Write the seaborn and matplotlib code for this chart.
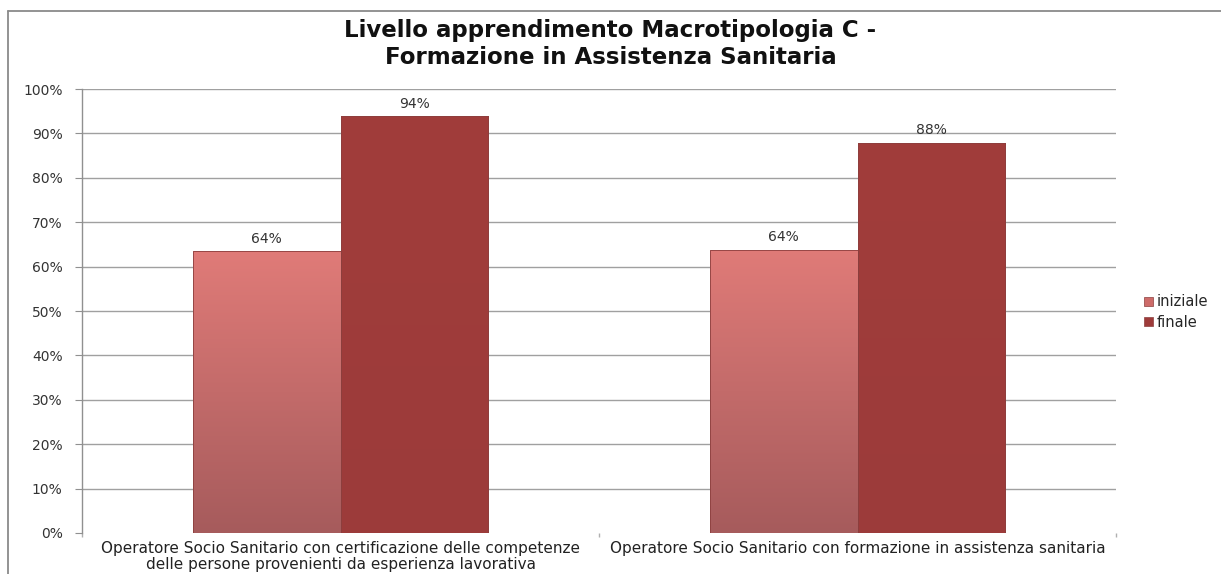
import matplotlib
matplotlib.use("Agg")
import matplotlib.pyplot as plt
import numpy as np
import pandas as pd
import seaborn as sns
from matplotlib.colors import LinearSegmentedColormap
from matplotlib.lines import Line2D

categories = [
    "Operatore Socio Sanitario con certificazione delle competenze\ndelle persone provenienti da esperienza lavorativa",
    "Operatore Socio Sanitario con formazione in assistenza sanitaria",
]
series = ["iniziale", "finale"]
iniziale = [0.635, 0.638]
finale = [0.939, 0.879]
data_labels = [["64%", "64%"], ["94%", "88%"]]
yticks = [0, 0.1, 0.2, 0.3, 0.4, 0.5, 0.6, 0.7, 0.8, 0.9, 1.0]
title = "Livello apprendimento Macrotipologia C -\nFormazione in Assistenza Sanitaria"

df = pd.DataFrame({
    "cat": categories * 2,
    "serie": [series[0]] * 2 + [series[1]] * 2,
    "val": iniziale + finale,
})

sns.set_theme(style="white")
plt.rcParams["font.family"] = ["DejaVu Sans"]

W, H = 1221, 574
fig = plt.figure(figsize=(W / 100, H / 100), dpi=100)
ax = fig.add_axes([82 / W, 1 - 533 / H, (1116 - 82) / W, (533 - 89) / H])

col_ini = "#CD6B69"
col_fin = "#9E3B3A"
palette = {"iniziale": col_ini, "finale": col_fin}
sns.barplot(data=df, x="cat", y="val", hue="serie", order=categories,
            hue_order=series, palette=palette, width=0.57, gap=0,
            saturation=1, ax=ax, edgecolor="#8C3F3E", linewidth=0.6)

# vertical gradient inside the bars
grad_ini = LinearSegmentedColormap.from_list("gi", ["#A65B5C", "#E07B78"])
grad_fin = LinearSegmentedColormap.from_list("gf", ["#9C3B3A", "#A13D3B"])
for cont, cmap in zip(ax.containers, [grad_ini, grad_fin]):
    for p in cont.patches:
        x0, y0 = p.get_x(), p.get_y()
        w, h = p.get_width(), p.get_height()
        g = np.linspace(0, 1, 256).reshape(-1, 1)
        im = ax.imshow(g, cmap=cmap, aspect="auto", origin="lower",
                       extent=[x0, x0 + w, y0, y0 + h], zorder=2.5)
        im.set_clip_path(p)
    for p in cont.patches:
        p.set_zorder(3)
        p.set_facecolor("none")

for cont, labs in zip(ax.containers, data_labels):
    ax.bar_label(cont, labels=labs, padding=4, fontsize=10, color="#333333")

ax.set_xlim(-0.5, 1.5)
ax.set_ylim(0, 1.0)
ax.set_yticks(yticks)
ax.set_yticklabels([f"{int(round(t * 100))}%" for t in yticks], fontsize=10, color="#333333")
ax.yaxis.grid(True, color="#A0A0A0", linewidth=1.0)
ax.yaxis.get_gridlines()[0].set_visible(False)
ax.set_axisbelow(True)
ax.set_xlabel("")
ax.set_ylabel("")
ax.tick_params(axis="x", labelsize=11, colors="#222222", length=0, pad=6)
ax.tick_params(axis="y", left=True, length=5, width=0.8, color="#909090", pad=9)
ax.set_xticks([-0.5, 0.5, 1.5], minor=True)
ax.tick_params(axis="x", which="minor", bottom=True, length=3, color="#B0B0B0")
for lab in ax.get_xticklabels():
    lab.set_linespacing(1.08)
for s in ["top", "right", "bottom"]:
    ax.spines[s].set_visible(False)
ax.spines["left"].set_color("#909090")
ax.spines["left"].set_linewidth(1.0)

ax.legend_.remove()
handles = [plt.Rectangle((0, 0), 1, 1, facecolor=palette[s], edgecolor="#8C3F3E", linewidth=0.5)
           for s in series]
fig.legend(handles, series, loc="center left",
           bbox_to_anchor=(1144 / W, 1 - 312 / H), frameon=False,
           fontsize=10.5, handlelength=0.6, handleheight=0.6, handletextpad=0.25,
           labelspacing=0.35, borderpad=0, borderaxespad=0)

fig.text(0.5, 1 - 44 / H, title, ha="center", va="center", fontsize=16.5,
         fontweight="bold", family=["DejaVu Sans"], linespacing=1.25,
         color="#111111")

# chart frame (top and left edges visible)
fig.add_artist(Line2D([8 / W, 1.0], [1 - 11 / H, 1 - 11 / H], transform=fig.transFigure,
                      color="#8A8A8A", linewidth=1.3))
fig.add_artist(Line2D([8 / W, 8 / W], [0, 1 - 11 / H], transform=fig.transFigure,
                      color="#8A8A8A", linewidth=1.3))

fig.savefig("out.png", dpi=100)
